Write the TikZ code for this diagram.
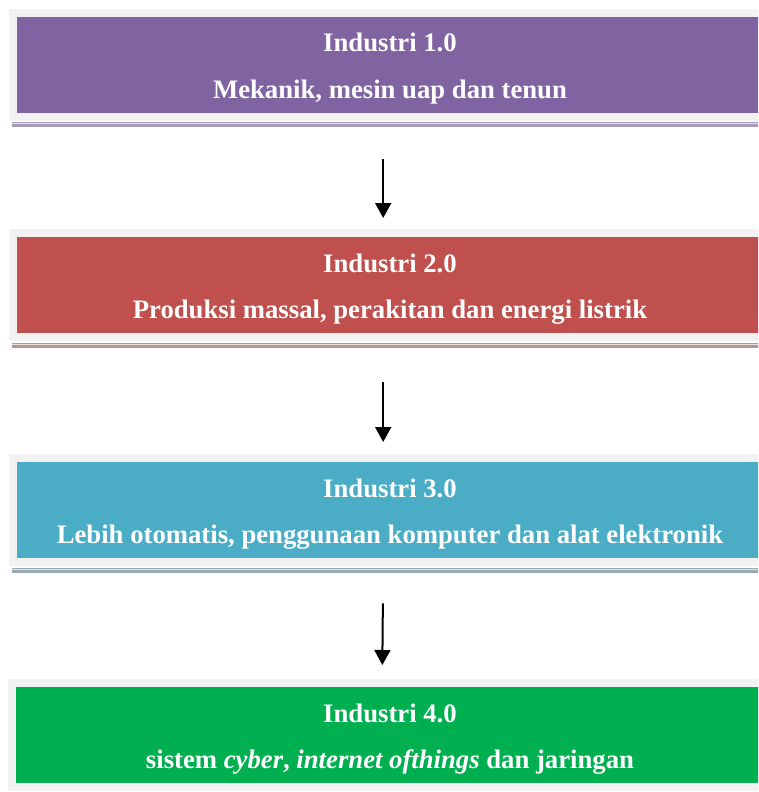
\documentclass[tikz,border=0pt]{standalone}
\usepackage{fontspec}
\setmainfont{Liberation Serif}
\usetikzlibrary{arrows.meta}
\definecolor{cpurple}{HTML}{8064A2}
\definecolor{cred}{HTML}{C0504D}
\definecolor{cblue}{HTML}{4BACC6}
\definecolor{cgreen}{HTML}{00B050}
\definecolor{frame}{HTML}{F2F2F2}
\definecolor{shpurple}{HTML}{A59DB3}
\definecolor{shred}{HTML}{B59695}
\definecolor{shblue}{HTML}{97AAB0}
\tikzset{
  framebox/.style={fill=frame, draw=none, inner sep=0pt, minimum width=763pt, minimum height=112pt, anchor=north west},
  colbox/.style={draw=none, inner sep=0pt, minimum width=760pt, minimum height=96pt, anchor=north west},
  txt/.style={text=white, font=\bfseries\fontsize{26.7}{30}\selectfont, anchor=base, inner sep=0pt},
  arr/.style={line width=2pt, -{Triangle[width=16pt,length=15pt]}, shorten <=38pt, shorten >=11pt}
}
\newcommand{\shadowbar}[2]{%
  \fill[#2] (12,#1+1.3) rectangle (770,#1+6.3);
  \fill[white,opacity=0.7] (12,#1+2.0) rectangle (770,#1+2.8);
}
\begin{document}
\begin{tikzpicture}[x=1pt,y=-1pt]
\clip (0,0) rectangle (758,792);
\fill[white] (0,0) rectangle (758,792);
% box 1
\shadowbar{121}{shpurple}
\node[framebox] (f1) at (9,9) {};
\node[colbox, fill=cpurple] (b1) at (17,17) {};
\node[txt] (t1a) at (390,52) {Industri 1.0};
\node[txt] (t1b) at (390,98) {Mekanik, mesin uap dan tenun};
% box 2
\shadowbar{342}{shred}
\node[framebox] (f2) at (9,229) {};
\node[colbox, fill=cred] (b2) at (17,237) {};
\node[txt] (t2a) at (390,272) {Industri 2.0};
\node[txt] (t2b) at (390,318) {Produksi massal, perakitan dan energi listrik};
% box 3
\shadowbar{567}{shblue}
\node[framebox] (f3) at (9,454) {};
\node[colbox, fill=cblue] (b3) at (17,462) {};
\node[txt] (t3a) at (390,497) {Industri 3.0};
\node[txt] (t3b) at (390,543) {Lebih otomatis, penggunaan komputer dan alat elektronik};
% box 4
\node[framebox] (f4) at (8,679) {};
\node[colbox, fill=cgreen] (b4) at (16,687) {};
\node[txt] (t4a) at (390,722) {Industri 4.0};
\node[txt] (t4b) at (390,768) {sistem \textit{cyber}, \textit{internet ofthings} dan jaringan};
% arrows
\draw[arr] ([xshift=-7.5pt]f1.south) -- ([xshift=-7.5pt]f2.north);
\draw[arr, shorten <=41pt, shorten >=12pt] ([xshift=-7.5pt]f2.south) -- ([xshift=-7.5pt]f3.north);
\draw[arr, shorten <=37pt, shorten >=14pt] ([xshift=-7.5pt]f3.south) -- ([xshift=-7.5pt]f4.north);
\end{tikzpicture}
\end{document}
